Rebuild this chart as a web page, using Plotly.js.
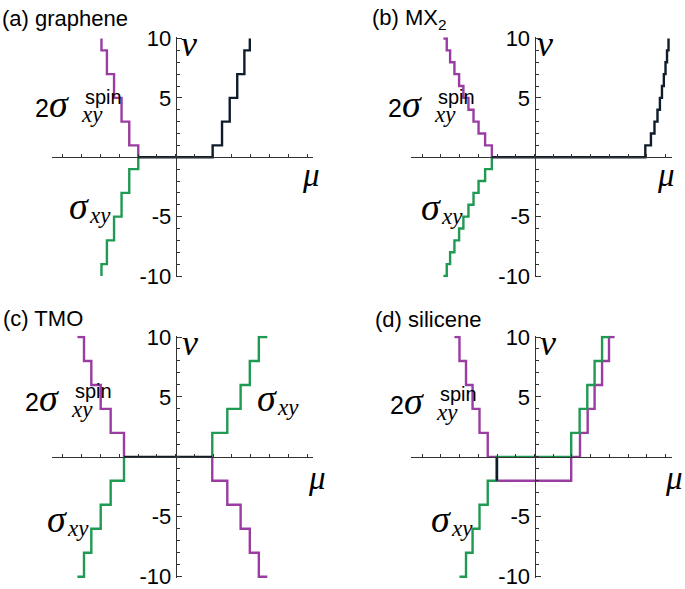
<!DOCTYPE html>
<html>
<head>
<meta charset="utf-8">
<script src="https://cdn.plot.ly/plotly-3.0.1.min.js"></script>
<style>html,body{margin:0;padding:0;background:#fff;}#plot{width:685px;height:589px;}</style>
</head>
<body>
<div id="plot"></div>
<script>
// ---------------- data ----------------
// (a) graphene
const A_left_mu   = [-3.95, -3.95, -3.66, -3.28, -2.88, -2.47, -1.99];
const A_purple_nu = [10, 9, 7, 5, 3, 1, 0];
const A_green_nu  = [-10, -9, -7, -5, -3, -1, 0];
const A_black_mu  = [-1.99, 1.97, 2.47, 2.88, 3.28, 3.66, 3.95];
const A_black_nu  = [0, 1, 3, 5, 7, 9, 10];
// (b) MX2
const B_left_mu   = [-4.87, -4.69, -4.51, -4.28, -4.03, -3.80, -3.53, -3.26, -2.99, -2.64, -2.28];
const B_purple_nu = [10, 9, 8, 7, 6, 5, 4, 3, 2, 1, 0];
const B_green_nu  = [-10, -9, -8, -7, -6, -5, -4, -3, -2, -1, 0];
const B_black_mu  = [-2.28, 5.92, 6.22, 6.41, 6.57, 6.70, 6.81, 6.91, 7.00, 7.08, 7.16];
const B_black_nu  = [0, 1, 2, 3, 4, 5, 6, 7, 8, 9, 10];
// (c) TMO
const C_left_mu   = [-5.23, -4.88, -4.49, -3.99, -3.46, -2.75];
const C_purple_left_nu = [10, 8, 6, 4, 2, 0];
const C_green_left_nu  = [-10, -8, -6, -4, -2, 0];
const C_black_mu  = [-2.75, 1.95];
const C_black_nu  = [0, 0];
const C_right_mu  = [1.95, 2.75, 3.46, 3.95, 4.43, 4.88];
const C_green_right_nu  = [0, 2, 4, 6, 8, 10];
const C_purple_right_nu = [0, -2, -4, -6, -8, -10];
// (d) silicene
const D_purple_mu = [-4.28, -4.01, -3.66, -3.31, -2.94, -2.50, -2.01, 1.96, 2.43, 2.84, 3.21, 3.61, 3.98, 4.28];
const D_purple_nu = [10, 8, 6, 4, 2, 0, -2, 0, 2, 4, 6, 8, 10, 10];
const D_green_mu  = [-4.01, -3.66, -3.31, -2.94, -2.50, -2.01, 1.96, 2.41, 2.82, 3.21, 3.61, 4.01];
const D_green_nu  = [-10, -8, -6, -4, -2, 0, 2, 4, 6, 8, 10, 10];
const D_black_mu  = [-2.01, -2.01];
const D_black_nu  = [-2, 0];
// axes
const MU_RANGE = [-6.6, 7.33];
const NU_RANGE = [-10.1, 10.1];
const NU_TICKS = [-10, -5, 5, 10];
const NU_TICK_LABELS = ['-10', '-5', '5', '10'];
const PANEL_TITLES = ['(a) graphene', '(b) MX<sub>2</sub>', '(c) TMO', '(d) silicene'];

// ---------------- layout helpers ----------------
const W = 685, H = 589;
const PURPLE = '#9a3ca2', GREEN = '#1f9a52', BLACK = '#0f1d2b', AXC = '#333333';
const LW = 2.4;
const SANS = 'Liberation Sans, Arial, sans-serif';
const SERIF = 'Liberation Serif, Times New Roman, serif';
// panel boxes in px: [left, right, top(nu=10), bottom(nu=-10)]
const boxes = [
  [51.7, 313.3, 38.5, 276.0],
  [411.0, 671.7, 38.5, 276.0],
  [51.7, 313.3, 337.0, 576.7],
  [411.0, 671.7, 337.0, 576.7]
];
function fx(px){ return px / W; }
function fy(py){ return 1 - py / H; }

const layout = {
  width: W, height: H,
  margin: {l:0, r:0, t:0, b:0},
  paper_bgcolor: '#fff', plot_bgcolor: 'rgba(0,0,0,0)',
  showlegend: false,
  font: {family: SANS, size: 21, color: '#000'},
  annotations: []
};

boxes.forEach((b, i) => {
  const k = i === 0 ? '' : String(i + 1);
  const unitY = (b[3] - b[2]) / 20;
  const top = b[2] - (NU_RANGE[1] - 10) * unitY;
  const bot = b[3] + (-10 - NU_RANGE[0]) * unitY;
  const zeroY = top + (bot - top) * (NU_RANGE[1] / (NU_RANGE[1] - NU_RANGE[0]));
  const zeroX = b[0] + (b[1] - b[0]) * (-MU_RANGE[0] / (MU_RANGE[1] - MU_RANGE[0]));
  layout['xaxis' + k] = {
    domain: [fx(b[0]), fx(b[1])], range: MU_RANGE, anchor: 'free', position: fy(zeroY),
    showline: true, linecolor: AXC, linewidth: 1.2,
    ticks: 'inside', ticklen: 3, tickwidth: 1, tickcolor: AXC,
    tickmode: 'linear', tick0: 0, dtick: 1, showticklabels: false,
    showgrid: false, zeroline: false, fixedrange: true
  };
  layout['yaxis' + k] = {
    domain: [fy(bot), fy(top)], range: NU_RANGE, anchor: 'free', position: fx(zeroX),
    showline: true, linecolor: AXC, linewidth: 1.2,
    ticks: 'inside', ticklen: 5, tickwidth: 1, tickcolor: AXC,
    tickmode: 'array', tickvals: NU_TICKS, ticktext: NU_TICK_LABELS,
    ticklabeloverflow: 'allow',
    minor: {tickmode: 'linear', tick0: 0, dtick: 1, ticks: 'inside', ticklen: 3, tickwidth: 1, tickcolor: AXC},
    tickfont: {family: SANS, size: 22, color: '#000'},
    showgrid: false, zeroline: false, fixedrange: true
  };
});

function tr(x, y, color, shape, ax){
  return {type: 'scatter', mode: 'lines', x: x, y: y, xaxis: 'x' + ax, yaxis: 'y' + ax,
          line: {color: color, width: LW, shape: shape}, hoverinfo: 'skip'};
}
const data = [
  tr(A_left_mu, A_purple_nu, PURPLE, 'hv', ''),
  tr(A_left_mu, A_green_nu, GREEN, 'hv', ''),
  tr(A_black_mu, A_black_nu, BLACK, 'hv', ''),
  tr(B_left_mu, B_purple_nu, PURPLE, 'hv', '2'),
  tr(B_left_mu, B_green_nu, GREEN, 'hv', '2'),
  tr(B_black_mu, B_black_nu, BLACK, 'hv', '2'),
  tr(C_left_mu, C_purple_left_nu, PURPLE, 'hv', '3'),
  tr(C_left_mu, C_green_left_nu, GREEN, 'hv', '3'),
  tr(C_right_mu, C_purple_right_nu, PURPLE, 'vh', '3'),
  tr(C_right_mu, C_green_right_nu, GREEN, 'vh', '3'),
  tr(C_black_mu, C_black_nu, BLACK, 'hv', '3'),
  tr(D_purple_mu, D_purple_nu, PURPLE, 'hv', '4'),
  tr(D_green_mu, D_green_nu, GREEN, 'hv', '4'),
  tr(D_black_mu, D_black_nu, BLACK, 'hv', '4')
];

function ann(text, x, y, family, size){
  layout.annotations.push({text: text, xref: 'paper', yref: 'paper', x: fx(x), y: fy(y),
    xanchor: 'left', yanchor: 'middle', showarrow: false, borderpad: 0,
    font: {family: family, size: size, color: '#000'}});
}
// panel titles
const titlePos = [[1, 19], [371, 19], [2, 318], [374, 319]];
PANEL_TITLES.forEach((t, i) => ann(t, titlePos[i][0], titlePos[i][1], SANS, 22));
// nu and mu axis labels
const nuPos = [[180, 44], [536, 44], [181, 343], [539, 343]];
const muPos = [[301, 175], [656, 175], [307, 478], [664, 478]];
nuPos.forEach(p => ann('<i>ν</i>', p[0], p[1], SERIF, 36));
muPos.forEach(p => ann('<i>μ</i>', p[0], p[1], SERIF, 33));
// 2 sigma_xy^spin labels
const spinPos = [[34, 108], [387, 108], [24, 402], [389, 405]];
spinPos.forEach(p => {
  ann('2', p[0], p[1], SANS, 25);
  ann('<i>σ</i>', p[0] + 14, p[1] - 4, SERIF, 38);
  ann('spin', p[0] + 50, p[1] - 11, SANS, 20);
  ann('<i>xy</i>', p[0] + 46, p[1] + 7, SERIF, 23);
});
// sigma_xy labels
const sxyPos = [[68, 206], [420, 207], [46, 519], [256, 398], [430, 519]];
sxyPos.forEach(p => {
  ann('<i>σ</i>', p[0], p[1], SERIF, 38);
  ann('<i>xy</i>', p[0] + 20, p[1] + 9, SERIF, 23);
});

Plotly.newPlot('plot', data, layout, {staticPlot: true, displayModeBar: false});
</script>
</body>
</html>
